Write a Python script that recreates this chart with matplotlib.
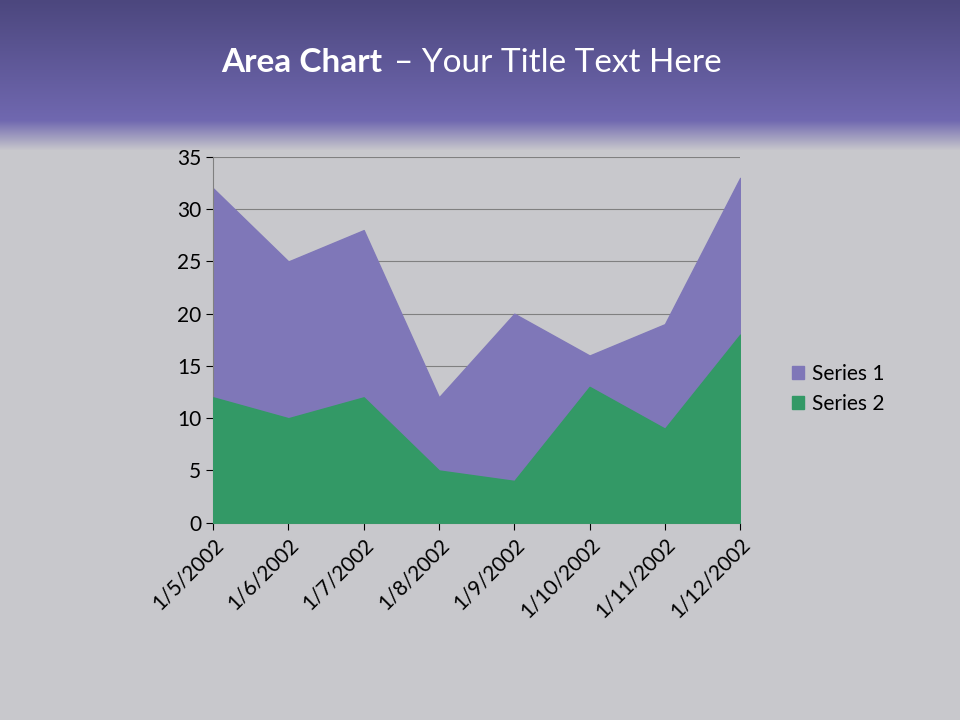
import matplotlib
matplotlib.use("Agg")
import matplotlib.pyplot as plt
import numpy as np
from matplotlib.patches import Patch

dates = ["1/5/2002","1/6/2002","1/7/2002","1/8/2002","1/9/2002","1/10/2002","1/11/2002","1/12/2002"]
series1 = [32, 25, 28, 12, 20, 16, 19, 33]
series2 = [12, 10, 12, 5, 4, 13, 9, 18]

plt.rcParams['font.family'] = ['Lato', 'DejaVu Sans']
fig = plt.figure(figsize=(9.6, 7.2), dpi=100)

bg = fig.add_axes([0, 0, 1, 1], zorder=-10)
bg.set_axis_off()
h = 720
grad = np.ones((h, 1, 3))
top = np.array([0x4c, 0x47, 0x7e]) / 255
mid = np.array([0x70, 0x68, 0xb0]) / 255
gray = np.array([0xc8, 0xc8, 0xcc]) / 255
for i in range(h):
    if i < 120:
        t = i / 120
        grad[i, 0] = top * (1 - t) + mid * t
    elif i < 150:
        t = (i - 120) / 30
        grad[i, 0] = mid * (1 - t) + gray * t
    else:
        grad[i, 0] = gray
bg.imshow(grad, aspect='auto', extent=[0, 1, 0, 1])
bg.set_xlim(0, 1); bg.set_ylim(0, 1)

fig.text(0.398, 0.913, "Area Chart", color='white', fontsize=24, fontweight='bold', ha='right', va='center')
fig.text(0.410, 0.913, "– Your Title Text Here", color='white', fontsize=24, ha='left', va='center')

ax = fig.add_axes([0.222, 0.274, 0.549, 0.508])
ax.set_facecolor('none')
x = np.arange(len(dates))
ax.fill_between(x, series1, color='#7f77b8', label='Series 1', zorder=2)
ax.fill_between(x, series2, color='#339966', label='Series 2', zorder=3)
ax.set_xlim(0, len(dates) - 1)
ax.set_ylim(0, 35)
ax.set_yticks(range(0, 36, 5))
ax.yaxis.grid(True, color='#808080', linewidth=0.8, zorder=1)
ax.set_axisbelow(True)
ax.set_xticks(x)
ax.set_xticklabels(dates, rotation=45, ha='right', rotation_mode='anchor')
ax.tick_params(axis='both', labelsize=15, colors='black', length=5)
for s in ['top', 'right']:
    ax.spines[s].set_visible(False)
ax.spines['left'].set_color('#808080')
ax.spines['bottom'].set_color('#808080')

handles = [Patch(color='#7f77b8', label='Series 1'), Patch(color='#339966', label='Series 2')]
fig.legend(handles=handles, loc='center left', bbox_to_anchor=(0.805, 0.460), frameon=False,
           fontsize=15, handlelength=0.6, handleheight=0.6, handletextpad=0.4, labelspacing=0.5)

fig.savefig("out.png", dpi=100)
